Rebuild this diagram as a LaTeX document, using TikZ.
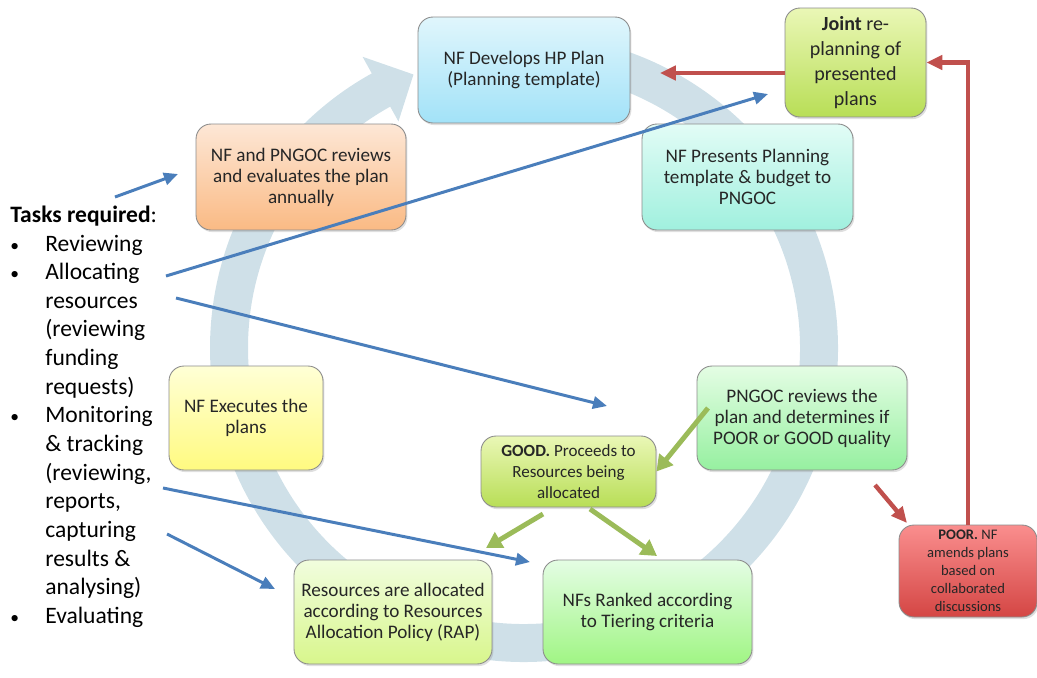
\documentclass[tikz,border=0pt]{standalone}
\usepackage{fontspec}
\setmainfont{Carlito}
\usetikzlibrary{arrows.meta, calc, shadows}
\definecolor{ringblue}{RGB}{207, 224, 232}
\definecolor{taskblue}{RGB}{74, 126, 187}
\definecolor{okgreen}{RGB}{155, 187, 89}
\definecolor{badred}{RGB}{192, 80, 77}
\definecolor{edgegrey}{RGB}{140, 140, 140}
\definecolor{devtop}{RGB}{224, 246, 252}
\definecolor{devbot}{RGB}{162, 226, 248}
\definecolor{limetop}{RGB}{234, 247, 182}
\definecolor{limebot}{RGB}{184, 222, 86}
\definecolor{aquatop}{RGB}{226, 252, 246}
\definecolor{aquabot}{RGB}{160, 240, 222}
\definecolor{orangetop}{RGB}{253, 231, 214}
\definecolor{orangebot}{RGB}{250, 186, 132}
\definecolor{mintop}{RGB}{228, 253, 228}
\definecolor{minbot}{RGB}{150, 240, 160}
\definecolor{yeltop}{RGB}{255, 255, 214}
\definecolor{yelbot}{RGB}{255, 250, 128}
\definecolor{paletop}{RGB}{241, 253, 222}
\definecolor{palebot}{RGB}{216, 246, 140}
\definecolor{rankbot}{RGB}{160, 245, 132}
\definecolor{poortop}{RGB}{250, 142, 142}
\definecolor{poorbot}{RGB}{212, 70, 68}
\newcommand{\tbul}{{\fontsize{10}{10}\selectfont\textbullet}}

\begin{document}
\begin{tikzpicture}[x=0.02cm, y=-0.02cm,
  box/.style={draw=edgegrey, line width=0.5pt, rounded corners=8.5pt, align=center, inner sep=2pt, text=black!85, font=\fontsize{10.9}{12}\selectfont, drop shadow={opacity=0.25, shadow xshift=0.8pt, shadow yshift=-1.2pt}},
  blu/.style={-{Triangle[length=8pt, width=7pt]}, line width=1.7pt, taskblue},
  grn/.style={-{Triangle[length=9pt, width=10pt]}, line width=2.8pt, okgreen},
  rd/.style={-{Triangle[length=9pt, width=8pt]}, line width=2.5pt, badred}
]
  \useasboundingbox (0, 0) rectangle (1037, 677);

  % cycle ring
  \coordinate (rc) at (524, 348);
  \draw[ringblue, line width=0.76cm] (rc) ++(-95:295) arc[start angle=-95, end angle=241.5, radius=295];
  \fill[ringblue] ($(rc)+(241:333)$) -- ($(rc)+(248:295)$) -- ($(rc)+(241:259)$) -- cycle;

  \node[box, minimum width=4.24cm, minimum height=2.12cm, top color=devtop, bottom color=devbot] (dev) at (524, 70) {NF Develops HP Plan\\(Planning template)};
  \node[box, minimum width=2.82cm, minimum height=2.18cm, top color=limetop, bottom color=limebot, font=\fontsize{11.4}{14.2}\selectfont] (joint) at (855.5, 62.5) {\textbf{Joint} re-\\planning of\\presented\\plans};
  \node[box, minimum width=4.22cm, minimum height=2.12cm, top color=aquatop, bottom color=aquabot] (present) at (747.5, 177) {NF Presents Planning\\template \& budget to\\PNGOC};
  \node[box, minimum width=4.2cm, minimum height=2.12cm, top color=orangetop, bottom color=orangebot] (annual) at (301, 177) {NF and PNGOC reviews\\and evaluates the plan\\annually};
  \node[box, minimum width=4.2cm, minimum height=2.08cm, top color=mintop, bottom color=minbot] (check) at (802, 418) {PNGOC reviews the\\plan and determines if\\POOR or GOOD quality};
  \node[box, minimum width=3.08cm, minimum height=2.08cm, top color=yeltop, bottom color=yelbot] (exec) at (246, 418) {NF Executes the\\plans};
  \node[box, minimum width=3.5cm, minimum height=1.42cm, top color=limetop, bottom color=limebot, font=\fontsize{9.7}{11.9}\selectfont] (good) at (568.5, 471.5) {\textbf{GOOD.} Proceeds to\\Resources being\\allocated};
  \node[box, minimum width=3.96cm, minimum height=2.08cm, top color=paletop, bottom color=palebot] (alloc) at (393, 612) {Resources are allocated\\according to Resources\\Allocation Policy (RAP)};
  \node[box, minimum width=4.18cm, minimum height=2.08cm, top color=mintop, bottom color=rankbot] (ranked) at (647.5, 612) {NFs Ranked according\\to Tiering criteria};
  \node[box, minimum width=2.76cm, minimum height=1.84cm, inner sep=0.5pt, top color=poortop, bottom color=poorbot, font=\fontsize{8.3}{10.2}\selectfont] (poor) at (968, 571) {\textbf{POOR.} NF\\amends plans\\based on\\collaborated\\discussions};

  \node[anchor=north west, inner sep=0pt, align=left, text=black, font=\fontsize{13.4}{16.3}\selectfont] (tasks) at (10, 202) {%
    \begin{tabular}{@{}p{0.7cm}@{}l@{}}
      \multicolumn{2}{@{}l@{}}{\textbf{Tasks required}:}\\
      \tbul & Reviewing\\
      \tbul & Allocating\\
      & resources\\
      & (reviewing\\
      & funding\\
      & requests)\\
      \tbul & Monitoring\\
      & \& tracking\\
      & (reviewing,\\
      & reports,\\
      & capturing\\
      & results \&\\
      & analysing)\\
      \tbul & Evaluating
    \end{tabular}};

  \coordinate (b1s) at (115, 197);
  \coordinate (b1e) at (178, 174);
  \coordinate (b2s) at (166, 276);
  \coordinate (b2e) at (768, 94);
  \coordinate (b3s) at (176, 298);
  \coordinate (b3e) at (607, 406);
  \coordinate (b4s) at (163, 488);
  \coordinate (b4e) at (530, 562);
  \coordinate (b5s) at (167, 534);
  \coordinate (b5e) at (275, 589);
  \draw[blu] (b1s) -- (b1e);
  \draw[blu] (b2s) -- (b2e);
  \draw[blu] (b3s) -- (b3e);
  \draw[blu] (b4s) -- (b4e);
  \draw[blu] (b5s) -- (b5e);

  \coordinate (g1s) at (708, 408);
  \coordinate (g2s) at (543, 514);
  \coordinate (g2e) at (486, 548);
  \coordinate (g3s) at (590, 509);
  \coordinate (g3e) at (657, 556);
  \draw[grn] (g1s) -- (good.east);
  \draw[grn] (g2s) -- (g2e);
  \draw[grn] (g3s) -- (g3e);

  \coordinate (r1e) at (660, 73);
  \coordinate (r2s) at (875, 485);
  \coordinate (r2e) at (907, 523);
  \draw[rd] (joint.west |- r1e) -- (r1e);
  \draw[rd] (r2s) -- (r2e);
  \draw[rd] (poor.north) |- (joint.east);
\end{tikzpicture}
\end{document}
